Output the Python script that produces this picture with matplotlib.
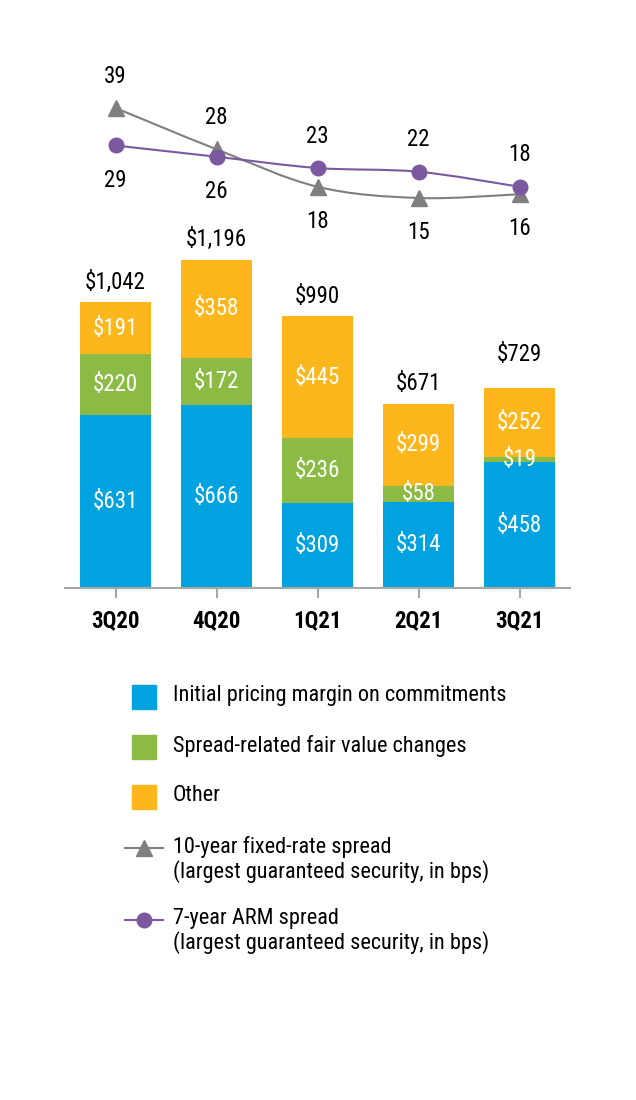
import matplotlib
matplotlib.use("Agg")
import matplotlib.pyplot as plt
from matplotlib.path import Path
from matplotlib.patches import PathPatch, Rectangle
from matplotlib.lines import Line2D

quarters = ["3Q20", "4Q20", "1Q21", "2Q21", "3Q21"]
initial_margin = [631, 666, 309, 314, 458]
spread_fv = [220, 172, 236, 58, 19]
other = [191, 358, 445, 299, 252]
totals = [1042, 1196, 990, 671, 729]
fixed_spread = [39, 28, 18, 15, 16]
arm_spread = [29, 26, 23, 22, 18]

BLUE = "#00a3e0"
GREEN = "#8cbb45"
ORANGE = "#fdb71c"
GRAY = "#7f7f7f"
PURPLE = "#7b58a0"
FONT = ["Roboto Condensed", "DejaVu Sans"]

plt.rcParams["font.family"] = FONT

W, H = 636, 1100
fig = plt.figure(figsize=(W / 100, H / 100), dpi=100)

def frac(x0, y0, x1, y1):
    # pixel box (top-left origin) -> figure fraction rect
    return [x0 / W, 1 - y1 / H, (x1 - x0) / W, (y1 - y0) / H]

x = list(range(len(quarters)))
NUM = 16.5

# ---- stacked bars ----
ax = fig.add_axes(frac(65, 588 - 1300 * 0.2745, 570, 588))
ax.bar(x, initial_margin, width=0.7, color=BLUE)
ax.bar(x, spread_fv, width=0.7, bottom=initial_margin, color=GREEN)
bottom2 = [a + b for a, b in zip(initial_margin, spread_fv)]
ax.bar(x, other, width=0.7, bottom=bottom2, color=ORANGE)
ax.set_xlim(-0.5, 4.5)
ax.set_ylim(0, 1300)

for i in x:
    ax.text(i, initial_margin[i] / 2, f"${initial_margin[i]}", ha="center", va="center",
            color="white", fontsize=NUM)
    ax.text(i, initial_margin[i] + spread_fv[i] / 2, f"${spread_fv[i]}", ha="center",
            va="center", color="white", fontsize=NUM)
    ax.text(i, bottom2[i] + other[i] / 2, f"${other[i]}", ha="center", va="center",
            color="white", fontsize=NUM)

total_off = [6, 6, 6, 6, 16]
for i in x:
    ax.annotate(f"${totals[i]:,}", (i, totals[i]), xytext=(0, total_off[i]),
                textcoords="offset points", ha="center", va="bottom", fontsize=NUM)

for s in ["top", "right", "left"]:
    ax.spines[s].set_visible(False)
ax.spines["bottom"].set_color("#a6a6a6")
ax.spines["bottom"].set_linewidth(1.5)
ax.set_yticks([])
ax.set_xticks(x)
ax.set_xticklabels(quarters, fontsize=NUM, fontweight="bold")
ax.tick_params(axis="x", length=7, width=1.5, color="#a6a6a6", pad=8)

# ---- spread lines ----
lax = fig.add_axes(frac(65, 108 - 6 * 3.75, 570, 108 + 29 * 3.75), sharex=ax)
lax.set_ylim(10, 45)
lax.axis("off")

def smooth(xs, ys):
    verts = [(xs[0], ys[0])]
    codes = [Path.MOVETO]
    n = len(xs)
    for i in range(n - 1):
        p0 = (xs[max(i - 1, 0)], ys[max(i - 1, 0)])
        p1 = (xs[i], ys[i])
        p2 = (xs[i + 1], ys[i + 1])
        p3 = (xs[min(i + 2, n - 1)], ys[min(i + 2, n - 1)])
        c1 = (p1[0] + (p2[0] - p0[0]) / 6, p1[1] + (p2[1] - p0[1]) / 6)
        c2 = (p2[0] - (p3[0] - p1[0]) / 6, p2[1] - (p3[1] - p1[1]) / 6)
        verts += [c1, c2, p2]
        codes += [Path.CURVE4] * 3
    return Path(verts, codes)

lax.add_patch(PathPatch(smooth(x, fixed_spread), fill=False, edgecolor=GRAY, lw=1.5,
                        clip_on=False))
lax.add_patch(PathPatch(smooth(x, arm_spread), fill=False, edgecolor=PURPLE, lw=1.5,
                        clip_on=False))
lax.plot(x, fixed_spread, ls="none", marker="^", ms=11, color=GRAY, clip_on=False)
lax.plot(x, arm_spread, ls="none", marker="o", ms=10.5, color=PURPLE, clip_on=False)

for i in x:
    up = fixed_spread[i] > arm_spread[i]
    lax.annotate(str(fixed_spread[i]), (i, fixed_spread[i]),
                 xytext=(0, 23 if up else -25), textcoords="offset points",
                 ha="center", va="center", fontsize=NUM)
    lax.annotate(str(arm_spread[i]), (i, arm_spread[i]),
                 xytext=(0, -25 if up else 23), textcoords="offset points",
                 ha="center", va="center", fontsize=NUM)

# ---- legend ----
legend_items = [
    ("patch", BLUE, None, "Initial pricing margin on commitments", 697),
    ("patch", GREEN, None, "Spread-related fair value changes", 747),
    ("patch", ORANGE, None, "Other", 797),
    ("line", GRAY, "^", "10-year fixed-rate spread\n(largest guaranteed security, in bps)", 848),
    ("line", PURPLE, "o", "7-year ARM spread\n(largest guaranteed security, in bps)", 920),
]
for kind, col, mk, label, yc in legend_items:
    if kind == "patch":
        fig.add_artist(Rectangle((132 / W, 1 - (yc + 12) / H), 24 / W, 24 / H,
                                 transform=fig.transFigure, color=col))
    else:
        fig.add_artist(Line2D([125 / W, 163 / W], [1 - yc / H] * 2, color=col, lw=1.5,
                              transform=fig.transFigure))
        fig.add_artist(Line2D([144 / W], [1 - yc / H], color=col, marker=mk,
                              ms=11 if mk == "^" else 10.5, transform=fig.transFigure))
    fig.text(173 / W, 1 - (yc - 12) / H, label, ha="left", va="top", fontsize=16,
             linespacing=1.1)

fig.savefig("out.png", dpi=100, facecolor="white")
